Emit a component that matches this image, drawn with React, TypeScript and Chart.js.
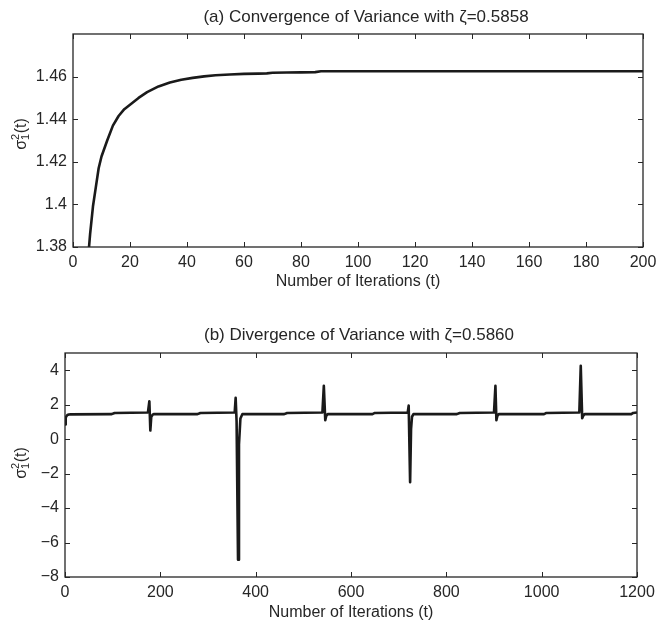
import React, { useEffect, useRef } from "react";
import { Chart, registerables } from "chart.js";

Chart.register(...registerables);

// ---------- Data ----------
const convT = [1, 2, 3, 4, 5, 6, 7, 8, 9, 10, 12, 14, 16, 18, 20, 23, 26, 30, 34, 38, 42, 46, 50, 55, 60, 65, 68, 70, 75, 80, 85, 87, 100, 150, 200];
const convV = [1.18, 1.27, 1.32, 1.35, 1.37, 1.386, 1.399, 1.408, 1.417, 1.4225, 1.430, 1.437, 1.4415, 1.4447, 1.4468, 1.4500, 1.4527, 1.4554, 1.4572, 1.4585, 1.4594, 1.4601, 1.4606, 1.4610, 1.4613, 1.4614, 1.4615, 1.4618, 1.4619, 1.4620, 1.4621, 1.4625, 1.4625, 1.4625, 1.4625];

const divT = [0, 1, 2, 3, 5, 8, 12, 98, 104, 174, 177, 179, 181, 184, 186, 278, 284, 356, 358, 360, 363, 365, 368, 372, 460, 466, 540, 543, 546, 548, 551, 645, 650, 719, 721, 724, 726, 728, 731, 822, 828, 900, 903, 905, 907, 910, 1005, 1010, 1079, 1082, 1085, 1087, 1090, 1188, 1192, 1200];
const divV = [0.85, 1.1, 1.25, 1.33, 1.4, 1.43, 1.44, 1.45, 1.52, 1.55, 2.2, 0.5, 1.3, 1.42, 1.45, 1.45, 1.52, 1.55, 2.4, 1.0, -7.0, -0.3, 1.2, 1.45, 1.45, 1.52, 1.55, 3.1, 1.1, 1.35, 1.45, 1.45, 1.52, 1.55, 1.95, -2.5, 0.6, 1.3, 1.45, 1.45, 1.52, 1.55, 3.1, 1.1, 1.35, 1.45, 1.45, 1.52, 1.55, 4.26, 1.22, 1.35, 1.45, 1.45, 1.52, 1.55];

const convYTicks = [1.38, 1.4, 1.42, 1.44, 1.46];
const divYTicks = [-8, -6, -4, -2, 0, 2, 4];
const convXTicks = [0, 20, 40, 60, 80, 100, 120, 140, 160, 180, 200];
const divXTicks = [0, 200, 400, 600, 800, 1000, 1200];

const titleA = "(a) Convergence of Variance with ζ=0.5858";
const titleB = "(b) Divergence of Variance with ζ=0.5860";
const xTitle = "Number of Iterations (t)";

const FONT = "'Liberation Sans', Arial, Helvetica, sans-serif";
const TEXT = "#262626";

type Cfg = {
  t: number[];
  v: number[];
  xMax: number;
  yMin: number;
  yMax: number;
  xTicks: number[];
  yTicks: number[];
  title: string;
  titleX: number;
  titleY: number;
  padTop: number;
  yAxisWidth: number;
  xAxisHeight: number;
  padRight: number;
  padBottom: number;
  xTitlePadBottom: number;
  yLabelY: number;
  decimals: number;
};

const framePlugin = {
  id: "matlabFrame",
  afterDraw(chart: any, _args: any, opts: any) {
    const { ctx, chartArea: a, scales } = chart;
    const xs = scales.x;
    const ys = scales.y;
    ctx.save();
    ctx.strokeStyle = "#262626";
    ctx.lineWidth = 1.3;
    ctx.strokeRect(a.left, a.top, a.right - a.left, a.bottom - a.top);
    const L = 5;
    ctx.lineWidth = 1;
    ctx.beginPath();
    xs.ticks.forEach((tk: any) => {
      const px = Math.round(xs.getPixelForValue(tk.value)) + 0.5;
      ctx.moveTo(px, a.bottom);
      ctx.lineTo(px, a.bottom - L);
      ctx.moveTo(px, a.top);
      ctx.lineTo(px, a.top + L);
    });
    ys.ticks.forEach((tk: any) => {
      const py = Math.round(ys.getPixelForValue(tk.value)) + 0.5;
      ctx.moveTo(a.left, py);
      ctx.lineTo(a.left + L, py);
      ctx.moveTo(a.right, py);
      ctx.lineTo(a.right - L, py);
    });
    ctx.stroke();

    // panel title
    ctx.fillStyle = TEXT;
    ctx.font = `17px ${FONT}`;
    ctx.textAlign = "center";
    ctx.textBaseline = "middle";
    ctx.fillText(opts.title, opts.titleX, opts.titleY);

    // y-axis label: sigma with stacked sub 1 and sup 2, then (t)
    const cx = 20;
    const cy = opts.labelY;
    ctx.translate(cx, cy);
    ctx.rotate(-Math.PI / 2);
    ctx.textBaseline = "alphabetic";
    ctx.textAlign = "left";
    const big = `16px ${FONT}`;
    const small = `11px ${FONT}`;
    ctx.font = big;
    const wS = ctx.measureText("σ").width;
    const wT = ctx.measureText("(t)").width;
    ctx.font = small;
    const wN = Math.max(ctx.measureText("2").width, ctx.measureText("1").width);
    const total = wS + wN + 0.5 + wT;
    let x = -total / 2;
    const base = 5.5;
    ctx.font = big;
    ctx.fillText("σ", x, base);
    x += wS;
    ctx.font = small;
    ctx.fillText("2", x, base - 7);
    ctx.fillText("1", x, base + 3.5);
    x += wN + 0.5;
    ctx.font = big;
    ctx.fillText("(t)", x, base);
    ctx.restore();
  },
};

function makeConfig(c: Cfg): any {
  return {
    type: "line",
    data: {
      datasets: [
        {
          data: c.t.map((t, i) => ({ x: t, y: c.v[i] })),
          borderColor: "#1a1a1a",
          borderWidth: 2.6,
          borderJoinStyle: "round",
          pointRadius: 0,
          tension: 0,
          fill: false,
        },
      ],
    },
    options: {
      animation: false,
      responsive: false,
      maintainAspectRatio: false,
      events: [],
      layout: { padding: { left: 0, right: c.padRight, top: c.padTop, bottom: c.padBottom } },
      plugins: {
        legend: { display: false },
        tooltip: { enabled: false },
        title: { display: false },
        matlabFrame: { labelY: c.yLabelY, title: c.title, titleX: c.titleX, titleY: c.titleY },
      },
      scales: {
        x: {
          type: "linear",
          min: 0,
          max: c.xMax,
          border: { display: false },
          grid: { display: false, drawTicks: false },
          afterBuildTicks: (s: any) => {
            s.ticks = c.xTicks.map((v) => ({ value: v }));
          },
          afterFit: (s: any) => {
            s.height = c.xAxisHeight;
          },
          ticks: {
            color: TEXT,
            padding: 6,
            maxRotation: 0,
            autoSkip: false,
            font: { family: FONT, size: 16 },
            callback: (v: any) => String(v),
          },
          title: {
            display: true,
            text: xTitle,
            color: TEXT,
            font: { family: FONT, size: 16, lineHeight: 1.2 },
            padding: { top: 0, bottom: c.xTitlePadBottom },
          },
        },
        y: {
          type: "linear",
          min: c.yMin,
          max: c.yMax,
          border: { display: false },
          grid: { display: false, drawTicks: false },
          afterBuildTicks: (s: any) => {
            s.ticks = c.yTicks.map((v) => ({ value: v }));
          },
          afterFit: (s: any) => {
            s.width = c.yAxisWidth;
          },
          ticks: {
            color: TEXT,
            padding: 6,
            autoSkip: false,
            font: { family: FONT, size: 16 },
            callback: (v: any) => {
              const n = Number(v);
              if (c.decimals === 0) return n < 0 ? "\u2212" + Math.abs(n) : String(n);
              return String(parseFloat(n.toFixed(c.decimals)));
            },
          },
        },
      },
    },
    plugins: [framePlugin],
  };
}

const cfgA: Cfg = {
  t: convT,
  v: convV,
  xMax: 200,
  yMin: 1.38,
  yMax: 1.48,
  xTicks: convXTicks,
  yTicks: convYTicks,
  title: titleA,
  titleX: 366,
  titleY: 17,
  padTop: 34,
  yAxisWidth: 73,
  xAxisHeight: 47,
  padRight: 27,
  padBottom: 18,
  xTitlePadBottom: 2.4,
  yLabelY: 134,
  decimals: 2,
};

const cfgB: Cfg = {
  t: divT,
  v: divV,
  xMax: 1200,
  yMin: -8,
  yMax: 5,
  xTicks: divXTicks,
  yTicks: divYTicks,
  title: titleB,
  titleX: 359,
  titleY: 23,
  padTop: 41,
  yAxisWidth: 65,
  xAxisHeight: 47,
  padRight: 33,
  padBottom: 0,
  xTitlePadBottom: 1.5,
  yLabelY: 151,
  decimals: 0,
};

function ChartCanvas({ cfg, top }: { cfg: Cfg; top: number }) {
  const ref = useRef<HTMLCanvasElement | null>(null);
  useEffect(() => {
    if (!ref.current) return;
    const chart = new Chart(ref.current, makeConfig(cfg));
    return () => chart.destroy();
  }, [cfg]);
  return (
    <canvas
      ref={ref}
      width={670}
      height={312}
      style={{ position: "absolute", left: 0, top, width: 670, height: 312, display: "block" }}
    />
  );
}

export default function App() {
  return (
    <div style={{ position: "absolute", left: 0, top: 0, width: 670, height: 624, background: "#fff" }}>
      <ChartCanvas cfg={cfgA} top={0} />
      <ChartCanvas cfg={cfgB} top={312} />
    </div>
  );
}
